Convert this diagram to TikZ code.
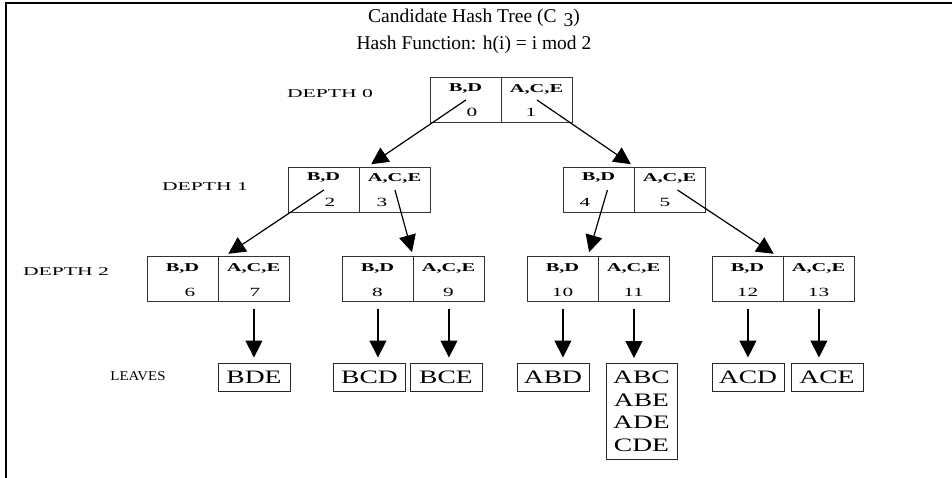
\documentclass[tikz,border=0pt]{standalone}
\usepackage{fontspec}
\setmainfont{Liberation Serif}
\newfontfamily\lblfont[FakeStretch=1.7]{Liberation Serif}
\newfontfamily\depthfont[FakeStretch=1.8]{Liberation Serif}
\newfontfamily\lvsfont[FakeStretch=1.1]{Liberation Serif}
\newfontfamily\leaffont[FakeStretch=1.45]{Liberation Serif}
\usetikzlibrary{arrows.meta}
\newcommand\hpair[3]{%
  \node[cell] (#1l) at (#2,#3) {};
  \node[cell] (#1r) at (#2+71,#3) {};
}
\begin{document}
\begin{tikzpicture}[x=1pt,y=-1pt,
  cell/.style={draw=black!80,line width=0.9pt,minimum width=71pt,minimum height=45pt,inner sep=0pt,anchor=north west},
  lbl/.style={inner sep=0pt,font=\lblfont\fontsize{12}{12}\selectfont\bfseries},
  num/.style={inner sep=0pt,font=\lblfont\fontsize{12.5}{12}\selectfont},
  dlab/.style={inner sep=0pt,font=\depthfont\fontsize{12}{12}\selectfont},
  lvs/.style={inner sep=0pt,font=\lvsfont\fontsize{13.5}{13.5}\selectfont},
  leaf/.style={draw=black!85,line width=1pt,minimum width=72pt,minimum height=28pt,inner sep=0pt,font=\leaffont\fontsize{19}{22.5}\selectfont},
  ttl/.style={inner sep=0pt,font=\fontsize{19.5}{22}\selectfont},
  arr/.style={line width=1.2pt,-{Triangle[length=17pt,width=17pt]}},
]
\useasboundingbox (0,0) rectangle (952,478);
\draw[line width=1.2pt] (6,478) -- (6,3) -- (952,3);

% titles
\node[ttl] (title1) at (474,18) {Candidate Hash Tree (C\hspace{7pt}\raisebox{-4pt}{3})};
\node[ttl] (title2) at (474,45) {Hash Function: h(i) = i mod 2};

% depth labels
\node[dlab] (dep0) at (330,94) {DEPTH 0};
\node[dlab] (dep1) at (205,187) {DEPTH 1};
\node[dlab] (dep2) at (66,272) {DEPTH 2};
\node[lvs] (lvs) at (138,376) {LEAVES};

% depth 0
\hpair{d0}{430}{77}
\node[lbl] (t0a) at (465.5,89) {B,D};
\node[num] (t0b) at (472,112) {0};
\node[lbl] (t0c) at (536.5,89) {A,C,E};
\node[num] (t0d) at (531,112) {1};

% depth 1
\hpair{d1L}{288}{167}
\node[lbl] (t1a) at (323.5,178) {B,D};
\node[num] (t1b) at (330,202) {2};
\node[lbl] (t1c) at (394.5,178) {A,C,E};
\node[num] (t1d) at (382,202) {3};

\hpair{d1R}{563}{167}
\node[lbl] (t1e) at (598.5,178) {B,D};
\node[num] (t1f) at (585,202) {4};
\node[lbl] (t1g) at (669.5,178) {A,C,E};
\node[num] (t1h) at (665,202) {5};

% depth 2
\hpair{d2A}{147}{256}
\node[lbl] (t2a) at (182.5,268) {B,D};
\node[num] (t2b) at (190,292) {6};
\node[lbl] (t2c) at (253.5,268) {A,C,E};
\node[num] (t2d) at (255,292) {7};

\hpair{d2B}{342}{256}
\node[lbl] (t2e) at (377.5,268) {B,D};
\node[num] (t2f) at (377.5,292) {8};
\node[lbl] (t2g) at (448.5,268) {A,C,E};
\node[num] (t2h) at (448.5,292) {9};

\hpair{d2C}{527}{256}
\node[lbl] (t2i) at (562.5,268) {B,D};
\node[num] (t2j) at (562.5,292) {10};
\node[lbl] (t2k) at (633.5,268) {A,C,E};
\node[num] (t2l) at (633.5,292) {11};

\hpair{d2D}{712}{256}
\node[lbl] (t2m) at (747.5,268) {B,D};
\node[num] (t2n) at (747.5,292) {12};
\node[lbl] (t2o) at (818.5,268) {A,C,E};
\node[num] (t2p) at (818.5,292) {13};

% leaves
\node[leaf] (lBDE) at (254,377) {BDE};
\node[leaf] (lBCD) at (369.5,377) {BCD};
\node[leaf] (lBCE) at (446,377) {BCE};
\node[leaf] (lABD) at (553,377) {ABD};
\node[leaf,anchor=north,minimum width=71pt,minimum height=96pt,align=center] (lABC) at (641.5,363) {ABC\\ABE\\ADE\\CDE};
\node[leaf] (lACD) at (748,377) {ACD};
\node[leaf] (lACE) at (827,377) {ACE};

% diagonal arrows
\draw[arr,shorten >=5pt] (d0l.center) -- ([xshift=8pt]d1Lr.north west);
\draw[arr,shorten >=5pt] (d0r.center) -- ([xshift=1pt]d1Rr.north west);
\draw[arr,shorten >=4pt] (d1Ll.center) -- ([xshift=7pt]d2Ar.north west);
\draw[arr,shorten >=4pt] (d1Lr.center) -- (d2Br.north west);
\draw[arr,shorten >=4pt] ([xshift=8.5pt]d1Rl.center) -- ([xshift=-10pt]d2Cr.north west);
\draw[arr,shorten >=4pt] ([xshift=7.5pt]d1Rr.center) -- ([xshift=-6pt]d2Dr.north west);

% vertical arrows
\draw[arr,shorten <=7pt,shorten >=5pt] (d2Ar.south) -- (d2Ar.south |- lBDE.north);
\draw[arr,shorten <=7pt,shorten >=5pt] (d2Bl.south) -- (d2Bl.south |- lBCD.north);
\draw[arr,shorten <=7pt,shorten >=5pt] (d2Br.south) -- (d2Br.south |- lBCE.north);
\draw[arr,shorten <=7pt,shorten >=5pt] (d2Cl.south) -- (d2Cl.south |- lABD.north);
\draw[arr,shorten <=7pt,shorten >=5pt] (d2Cr.south) -- (d2Cr.south |- lABC.north);
\draw[arr,shorten <=7pt,shorten >=5pt] (d2Dl.south) -- (d2Dl.south |- lACD.north);
\draw[arr,shorten <=7pt,shorten >=5pt] (d2Dr.south) -- (d2Dr.south |- lACE.north);
\end{tikzpicture}
\end{document}
